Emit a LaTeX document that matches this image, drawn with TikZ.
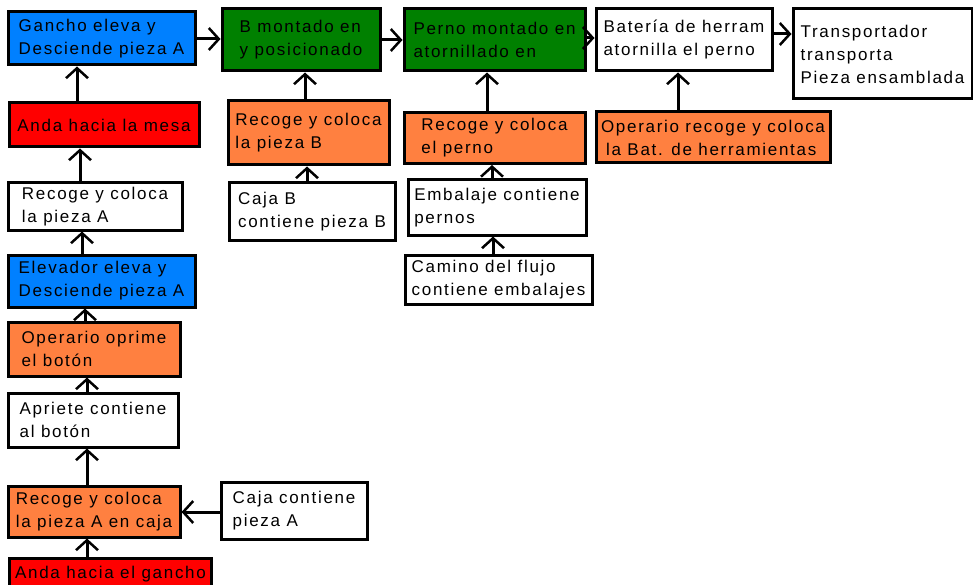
\documentclass[tikz,border=0pt]{standalone}
\usepackage{fontspec}
\setmainfont[LetterSpace=10]{Liberation Sans}
\usepackage{xcolor}
\usetikzlibrary{arrows.meta}
\definecolor{azul}{RGB}{0,128,255}
\definecolor{verde}{RGB}{0,128,0}
\definecolor{rojo}{RGB}{255,0,0}
\definecolor{naranja}{RGB}{255,128,64}

\begin{document}
\begin{tikzpicture}[x=1pt,y=-1pt,>={Straight Barb[length=10pt,width=22pt,line width=2.5pt]},
    caja/.style={draw,line width=3pt,inner sep=2pt,align=left,font=\fontsize{17}{23}\selectfont},
    flecha/.style={->,line width=3pt}]
  \useasboundingbox (0,0) rectangle (973,585);
  % fila de arriba
  \node[caja,fill=azul,minimum width=187pt,minimum height=53pt] (gancho) at (101.5,38.5) {Gancho eleva y\\Desciende pieza A};
  \node[caja,fill=verde,minimum width=158pt,minimum height=62pt] (bmont) at (301,40) {B montado en\\y posicionado};
  \node[caja,fill=verde,minimum width=181pt,minimum height=62pt] (pmont) at (494.5,40) {Perno montado en\\atornillado en\hspace{2.6em}};
  \node[caja,minimum width=176pt,minimum height=62pt] (bateria) at (684,40) {Batería de herram\\atornilla el perno};
  \node[caja,minimum width=179pt,minimum height=90pt] (transp) at (882.5,54) {Transportador\\transporta\\Pieza ensamblada};
  % columna B
  \node[caja,fill=naranja,minimum width=161pt,minimum height=64pt] (recB) at (308.5,133) {Recoge y coloca\\la pieza B\hspace{3.5em}};
  \node[caja,minimum width=166pt,minimum height=57pt] (cajaB) at (312,211.5) {Caja B\\contiene pieza B};
  % columna perno
  \node[caja,fill=naranja,minimum width=181pt,minimum height=51pt] (recperno) at (494.5,138) {Recoge y coloca\\el perno};
  \node[caja,minimum width=178pt,minimum height=55pt] (embalaje) at (497,207.5) {Embalaje contiene\\pernos};
  \node[caja,minimum width=187pt,minimum height=49pt] (camino) at (498.5,279.5) {Camino del flujo\\contiene embalajes};
  \node[caja,fill=naranja,minimum width=234pt,minimum height=51pt] (opbat) at (713,137.5) {Operario recoge y coloca\\\hspace{0.3em}la Bat. de herramientas};
  % columna A
  \node[caja,fill=rojo,minimum width=190pt,minimum height=44pt] (mesa) at (104,125) {Anda hacia la mesa};
  \node[caja,minimum width=174pt,minimum height=47pt] (recA) at (95,206.5) {Recoge y coloca\\la pieza A};
  \node[caja,fill=azul,minimum width=187pt,minimum height=52pt] (elev) at (101.5,281) {Elevador eleva y\\Desciende pieza A};
  \node[caja,fill=naranja,minimum width=172pt,minimum height=54pt] (oprime) at (94,349) {Operario oprime\\el botón};
  \node[caja,minimum width=170pt,minimum height=54pt] (apriete) at (93,420) {Apriete contiene\\al botón};
  \node[caja,fill=naranja,minimum width=172pt,minimum height=51pt] (recAcaja) at (94,511.5) {Recoge y coloca\\la pieza A en caja};
  \node[caja,minimum width=146pt,minimum height=57pt] (cajaA) at (294,510.5) {Caja contiene\\pieza A};
  \node[caja,fill=rojo,minimum width=202pt,minimum height=32pt,anchor=north west] (ganchoAnda) at (8,557) {Anda hacia el gancho};

  \path[flecha] (ganchoAnda.north -| 87,0) edge (recAcaja.south -| 87,0)
        (cajaA.west |- 0,512) edge (recAcaja.east |- 0,512)
        (recAcaja.north -| 87,0) edge (apriete.south -| 87,0)
        (apriete.north -| 87,0) edge (oprime.south -| 87,0)
        (oprime.north -| 85,0) edge (elev.south -| 85,0)
        (elev.north -| 82,0) edge (recA.south -| 82,0)
        (recA.north -| 80,0) edge (mesa.south -| 80,0)
        (mesa.north -| 77,0) edge (gancho.south -| 77,0)
        (gancho.east |- 0,39) edge (bmont.west |- 0,39)
        (bmont.east |- 0,40) edge (pmont.west |- 0,40)
        (pmont.east |- 0,38) edge (bateria.west |- 0,38)
        (bateria.east |- 0,34) edge (transp.west |- 0,34)
        (cajaB.north -| 307,0) edge (recB.south -| 307,0)
        (recB.north -| 305,0) edge (bmont.south -| 305,0)
        (camino.north -| 493,0) edge (embalaje.south -| 493,0)
        (embalaje.north -| 492,0) edge (recperno.south -| 492,0)
        (recperno.north -| 487,0) edge (pmont.south -| 487,0)
        (opbat.north -| 678,0) edge (bateria.south -| 678,0);
\end{tikzpicture}
\end{document}
